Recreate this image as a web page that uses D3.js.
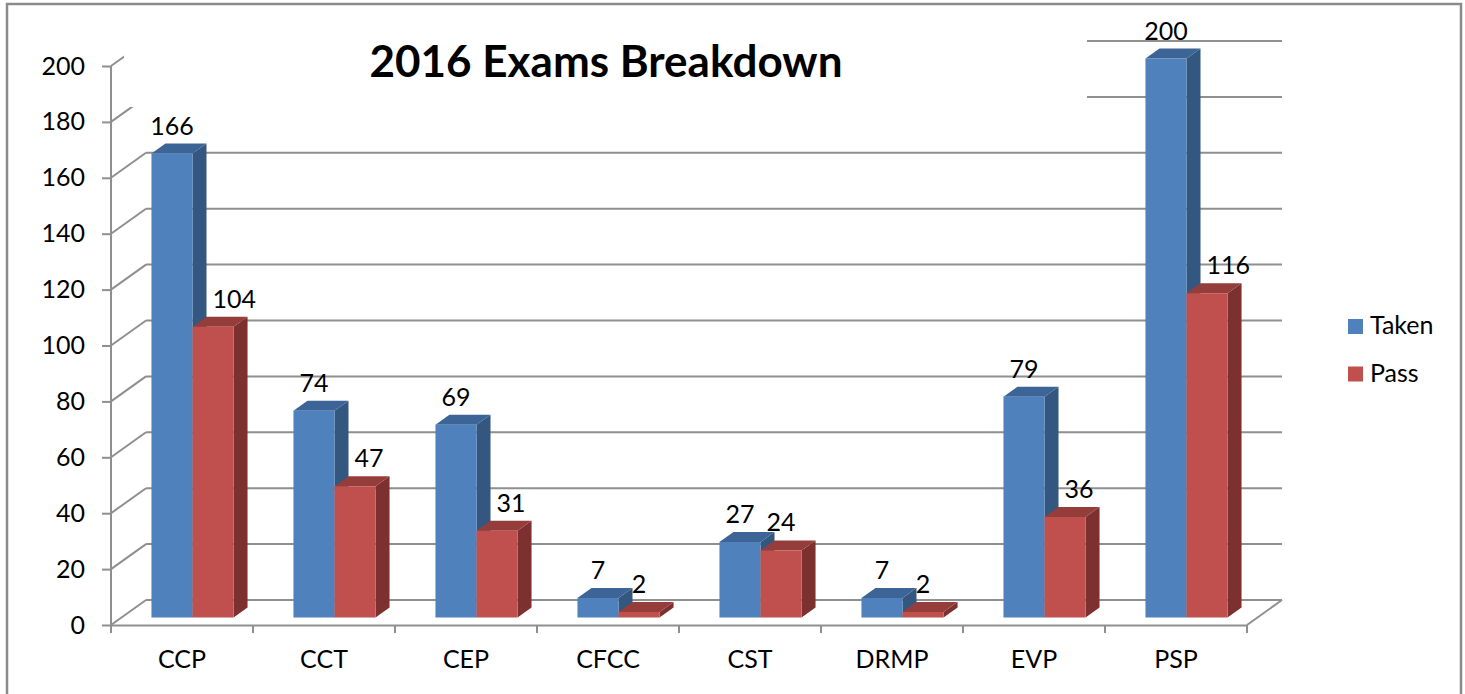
<!DOCTYPE html>
<html>
<head>
<meta charset="utf-8">
<script src="https://cdn.jsdelivr.net/npm/d3@7"></script>
<style>
	body { margin: 0; background: #fff; }
	text { font-family: "Lato", "Liberation Sans", sans-serif; fill: #000; }
</style>
</head>
<body>
<div id="chart"></div>
<script>

const categories = ["CCP", "CCT", "CEP", "CFCC", "CST", "DRMP", "EVP", "PSP"];
const seriesNames = ["Taken", "Pass"];
const taken = [166, 74, 69, 7, 27, 7, 79, 200];
const pass = [104, 47, 31, 2, 24, 2, 36, 116];
const yTicks = [0, 20, 40, 60, 80, 100, 120, 140, 160, 180, 200];
const chartTitle = "2016 Exams Breakdown";

const colors = {
	Taken: { front: "#4f81bd", top: "#3c6497", side: "#34577f" },
	Pass:  { front: "#c0504d", top: "#953d3b", side: "#7c3130" }
};

var width = 1465, height = 694;
var DX = 35, DY = 25;          // full floor depth, in pixels
var zFront = 0.3, zBack = 0.7; // where the bars sit inside that depth
var gridColor = "#8f8f8f";
var fontSize = "25px";

var svg = d3.select("#chart").append("svg")
	.attr("width", width)
	.attr("height", height);

// outer frame
svg.append("rect")
	.attr("x", 7).attr("y", 4)
	.attr("width", 1454).attr("height", 700)
	.attr("fill", "none")
	.attr("stroke", "#8a8a8a")
	.attr("stroke-width", 2.5);

var x = d3.scaleBand().domain(categories).range([111, 1247]).paddingInner(0).paddingOuter(0);
var xs = d3.scaleBand().domain(seriesNames).range([0, x.bandwidth()]).paddingInner(0).paddingOuter(0.73);
var y = d3.scaleLinear().domain([0, 200]).range([625, 66]);

function proj(px, v, z) {
	return [px + z * DX, y(v) - z * DY];
}

var x0 = x.range()[0], x1 = x.range()[1];

// back wall gridlines + left wall diagonals
var grid = svg.append("g").attr("stroke", gridColor).attr("stroke-width", 2).attr("fill", "none");
grid.selectAll("line.back")
	.data(yTicks)
	.enter().append("line")
	.attr("class", "back")
	.attr("x1", d => proj(x0, d, 1)[0]).attr("y1", d => proj(x0, d, 1)[1])
	.attr("x2", d => proj(x1, d, 1)[0]).attr("y2", d => proj(x1, d, 1)[1]);
grid.selectAll("line.side")
	.data(yTicks)
	.enter().append("line")
	.attr("class", "side")
	.attr("x1", x0).attr("y1", d => y(d))
	.attr("x2", d => proj(x0, d, 1)[0]).attr("y2", d => proj(x0, d, 1)[1]);
// right floor edge
grid.append("line")
	.attr("x1", x1).attr("y1", y(0))
	.attr("x2", proj(x1, 0, 1)[0]).attr("y2", proj(x1, 0, 1)[1]);

// front axes
var yAxis = d3.axisLeft(y).tickValues(yTicks).tickSize(9).tickPadding(17);
var gy = svg.append("g").attr("transform", "translate(" + x0 + ",0)").call(yAxis);
var xAxis = d3.axisBottom(x).tickSize(0).tickPadding(25);
var gx = svg.append("g").attr("transform", "translate(0," + y(0) + ")").call(xAxis);
[gy, gx].forEach(function(g) {
	g.select(".domain").attr("stroke", gridColor).attr("stroke-width", 2);
	g.selectAll(".tick line").attr("stroke", gridColor).attr("stroke-width", 2);
	g.selectAll("text").style("font-size", fontSize).attr("fill", "#000");
});
gy.select(".domain").attr("d", "M0," + y(0) + "V" + y(200));
// category boundary ticks
svg.append("g").selectAll("line")
	.data(d3.range(categories.length + 1))
	.enter().append("line")
	.attr("x1", i => x0 + i * x.step()).attr("x2", i => x0 + i * x.step())
	.attr("y1", y(0)).attr("y2", y(0) + 8)
	.attr("stroke", gridColor).attr("stroke-width", 2);

// title box hides the top of the grid, like the original
svg.append("rect")
	.attr("x", 124).attr("y", 12)
	.attr("width", 963).attr("height", 95)
	.attr("fill", "#fff");
svg.append("text")
	.attr("x", 606).attr("y", 77)
	.attr("text-anchor", "middle")
	.style("font-size", "44px")
	.style("font-weight", "bold")
	.text(chartTitle);

// bars
var rows = [];
categories.forEach(function(c, i) {
	rows.push({ cat: c, series: "Taken", value: taken[i], other: pass[i] });
	rows.push({ cat: c, series: "Pass", value: pass[i], other: taken[i] });
});

function poly(pts) {
	return "M" + pts.map(p => p.join(",")).join("L") + "Z";
}

var bars = svg.append("g").selectAll("g")
	.data(rows)
	.enter().append("g");

bars.each(function(d) {
	var g = d3.select(this);
	var l = x(d.cat) + xs(d.series), r = l + xs.bandwidth();
	var col = colors[d.series];
	g.append("path")
		.attr("d", poly([proj(r, 0, zFront), proj(r, d.value, zFront), proj(r, d.value, zBack), proj(r, 0, zBack)]))
		.attr("fill", col.side);
	g.append("path")
		.attr("d", poly([proj(l, d.value, zFront), proj(r, d.value, zFront), proj(r, d.value, zBack), proj(l, d.value, zBack)]))
		.attr("fill", col.top);
	g.append("path")
		.attr("d", poly([proj(l, 0, zFront), proj(r, 0, zFront), proj(r, d.value, zFront), proj(l, d.value, zFront)]))
		.attr("fill", col.front);
});

// value labels
var labels = svg.append("g");
rows.forEach(function(d) {
	var l = x(d.cat) + xs(d.series), r = l + xs.bandwidth();
	var base = proj(l, d.value, zBack)[1] - 9;
	var t = labels.append("text")
		.attr("y", base)
		.style("font-size", fontSize)
		.text(d.value);
	var w = t.node().getComputedTextLength();
	var left = proj((l + r) / 2, d.value, zFront)[0] - w / 2;
	if (d.series == "Pass") {
		// push the label clear of the taller blue column next to it
		var blueTop = proj(l, d.other, zBack)[1];
		if (blueTop < base - 5) {
			left = Math.max(left, proj(l, 0, zBack)[0] + 6);
		}
	}
	t.attr("x", left);
});

// legend
var legend = svg.append("g").selectAll("g")
	.data(seriesNames)
	.enter().append("g")
	.attr("transform", (d, i) => "translate(1348," + (319 + i * 47.5) + ")");
legend.append("rect")
	.attr("width", 15).attr("height", 15)
	.attr("fill", d => colors[d].front);
legend.append("text")
	.attr("x", 22).attr("y", 15)
	.style("font-size", fontSize)
	.text(d => d);

</script>
</body>
</html>
